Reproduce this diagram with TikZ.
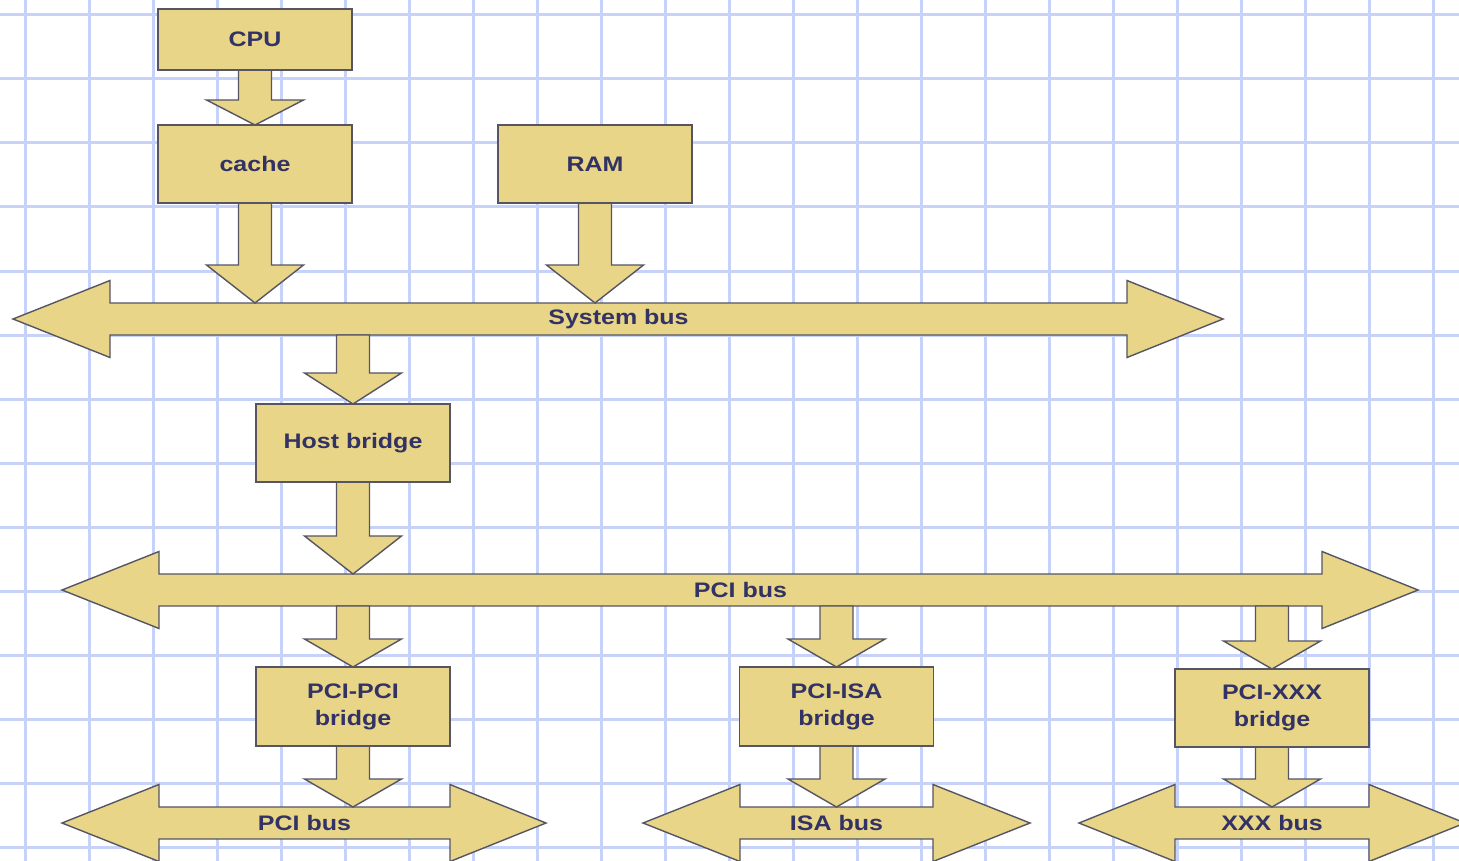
\documentclass[tikz,border=0pt]{standalone}
\usepackage{fontspec}
\newfontfamily\lblfont{Liberation Sans}[FakeStretch=1.19]
\usetikzlibrary{calc}
\definecolor{gridblue}{RGB}{198,210,250}
\definecolor{boxfill}{RGB}{232,213,135}
\definecolor{boxline}{RGB}{85,85,100}
\definecolor{txtcol}{RGB}{50,50,100}
\pgfdeclarelayer{gridlayer}
\pgfdeclarelayer{shapelayer}
\pgfsetlayers{gridlayer,shapelayer,main}
\tikzset{
  blockshape/.style={fill=boxfill, draw=boxline, line width=1.4pt, line join=miter},
  gridline/.style={draw=gridblue, line width=3pt},
  lbl/.style={font=\lblfont\bfseries\fontsize{21}{27}\selectfont, text=txtcol, align=center},
  boxnode/.style={lbl, draw=boxline, fill=boxfill, line width=1.4pt, minimum width=194pt, inner sep=0pt, outer sep=0pt},
  busnode/.style={lbl, minimum height=32pt, inner sep=0pt, outer sep=0pt}
}
% fat downward arrow from #1 to tip #2, head length #3
\newcommand\fatarrow[3]{%
  \begin{pgfonlayer}{shapelayer}
  \filldraw[blockshape] ($(#1)+(-16.5,0)$) -- ($(#2)+(-16.5,-#3)$) -- ($(#2)+(-48.5,-#3)$) -- (#2)
     -- ($(#2)+(48.5,-#3)$) -- ($(#2)+(16.5,-#3)$) -- ($(#1)+(16.5,0)$) -- cycle;
  \end{pgfonlayer}}
% double-headed bus around node #1, left head length #2, right head length #3
\newcommand\busarrow[3]{%
  \begin{pgfonlayer}{shapelayer}
  \filldraw[blockshape] (#1.north west) -- (#1.north east) -- ($(#1.north east)+(0,-22.5)$)
     -- ($(#1.east)+(#3,0)$) -- ($(#1.south east)+(0,22.5)$) -- (#1.south east)
     -- (#1.south west) -- ($(#1.south west)+(0,22.5)$) -- ($(#1.west)+(-#2,0)$)
     -- ($(#1.north west)+(0,-22.5)$) -- cycle;
  \end{pgfonlayer}}
\begin{document}
\begin{tikzpicture}[x=1pt,y=-1pt]
\useasboundingbox (0,0) rectangle (1459,861);
\begin{pgfonlayer}{gridlayer}
  \fill[white] (0,0) rectangle (1459,861);
  \foreach \i in {0,...,22} \draw[gridline] (25+64*\i,0) -- (25+64*\i,861);
  \foreach \j in {0,...,13} \draw[gridline] (0,15+64*\j) -- (1459,15+64*\j);
\end{pgfonlayer}

% boxes
\node[boxnode, minimum height=61pt] (cpu) at (255,39.5) {CPU};
\node[boxnode, minimum height=78pt] (cache) at (255,164) {cache};
\node[boxnode, minimum height=78pt] (ram) at (595,164) {RAM};
\node[boxnode, minimum height=78pt] (host) at (353,443) {Host bridge};
\node[boxnode, minimum height=79pt] (pcipci) at (353,706.5) {PCI-PCI\\bridge};
\node[boxnode, minimum height=79pt] (pciisa) at (836.5,706.5) {PCI-ISA\\bridge};
\node[boxnode, minimum height=78pt] (pcixxx) at (1272,708) {PCI-XXX\\bridge};

% buses
\node[busnode, minimum width=1017pt] (sysbus) at (618.5,319) {System bus};
\node[busnode, minimum width=1163pt] (pcibus) at (740.5,590) {PCI bus};
\node[busnode, minimum width=291pt] (pcibus2) at (304.5,823) {PCI bus};
\node[busnode, minimum width=193pt] (isabus) at (836.5,823) {ISA bus};
\node[busnode, minimum width=194pt] (xxxbus) at (1272,823) {XXX bus};

\busarrow{sysbus}{97}{96}
\busarrow{pcibus}{97}{96}
\busarrow{pcibus2}{97}{96}
\busarrow{isabus}{97}{97}
\busarrow{xxxbus}{96}{96}

% connection points
\coordinate (c1) at (cache.south |- sysbus.north);
\coordinate (r1) at (ram.south |- sysbus.north);
\coordinate (h0) at (host.north |- sysbus.south);
\coordinate (h1) at (host.south |- pcibus.north);
\coordinate (p0) at (pcipci.north |- pcibus.south);
\coordinate (i0) at (pciisa.north |- pcibus.south);
\coordinate (x0) at (pcixxx.north |- pcibus.south);
\coordinate (p1) at (pcipci.south |- pcibus2.north);
\coordinate (i1) at (pciisa.south |- isabus.north);
\coordinate (x1) at (pcixxx.south |- xxxbus.north);

\fatarrow{cpu.south}{cache.north}{25}
\fatarrow{cache.south}{c1}{38}
\fatarrow{ram.south}{r1}{38}
\fatarrow{h0}{host.north}{31}
\fatarrow{host.south}{h1}{38}
\fatarrow{p0}{pcipci.north}{28}
\fatarrow{i0}{pciisa.north}{28}
\fatarrow{x0}{pcixxx.north}{28}
\fatarrow{pcipci.south}{p1}{28}
\fatarrow{pciisa.south}{i1}{28}
\fatarrow{pcixxx.south}{x1}{28}
\end{tikzpicture}
\end{document}
